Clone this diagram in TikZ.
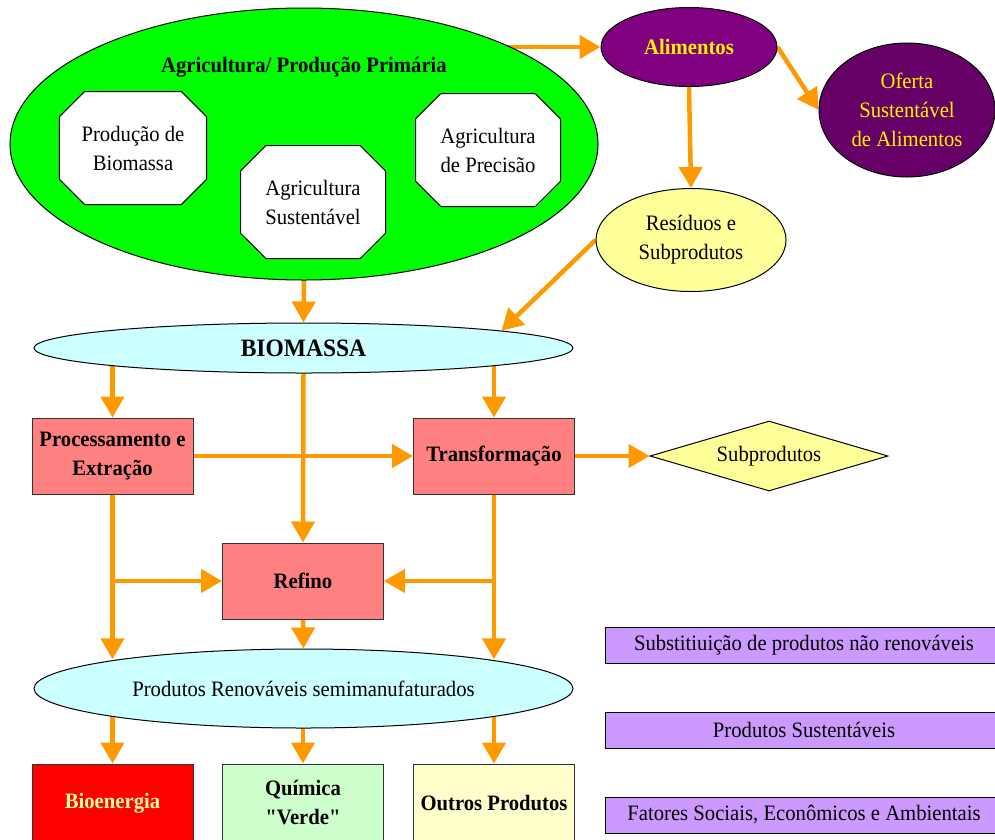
\documentclass[tikz,border=0pt]{standalone}
\usepackage{fontspec}
\setmainfont{Liberation Serif}[FakeStretch=0.94, Ligatures=TeXOff]
\usepackage{xcolor}
\usepackage{tikz}
\usetikzlibrary{shapes.geometric}
\usetikzlibrary{shapes.misc}
\usetikzlibrary{arrows.meta}
\pgfdeclarelayer{edgelayer}
\pgfsetlayers{edgelayer,main}

\definecolor{laranja}{HTML}{FF9900}
\definecolor{verde}{HTML}{00FF00}
\definecolor{roxo}{HTML}{800080}
\definecolor{roxoesc}{HTML}{660066}
\definecolor{amarelo}{HTML}{FFFF99}
\definecolor{ciano}{HTML}{CCFFFF}
\definecolor{salmao}{HTML}{FF8080}
\definecolor{verdeclaro}{HTML}{CCFFCC}
\definecolor{creme}{HTML}{FFFFCC}
\definecolor{lilas}{HTML}{CC99FF}

\begin{document}
\begin{tikzpicture}[x=1pt,y=-1pt,
            every node/.style={font=\fontsize{22}{29}\selectfont, align=center, inner sep=0pt},
            negrito/.style={font=\fontsize{22}{29}\selectfont\bfseries},
            seta/.style={draw=laranja, line width=4.5pt, -{Triangle[length=21pt,width=23pt]}},
            elipse/.style={ellipse, draw, line width=1pt},
            caixa/.style={rectangle, draw=black!80, line width=1pt, minimum width=161pt, minimum height=76pt},
            octo/.style={chamfered rectangle, chamfered rectangle xsep=27pt, draw, fill=white, line width=1pt, minimum width=145pt, minimum height=113pt},
            faixa/.style={rectangle, draw, fill=lilas, line width=1pt, minimum width=398pt, minimum height=36pt}]
            \useasboundingbox (0,0) rectangle (995,839);
            % Producao primaria
            \node[elipse, fill=verde, minimum width=588pt, minimum height=272pt] (agri) at (304,144) {};
            \node[negrito] (agrititulo) at (304,67) {Agricultura/ Produção Primária};
            \node[octo] (prodbio) at (133,148) {Produção de\\Biomassa};
            \node[octo] (agrisust) at (313,202) {Agricultura\\Sustentável};
            \node[octo] (agriprec) at (488,150) {Agricultura\\de Precisão};
            % Alimentos e residuos
            \node[elipse, fill=roxo, text=yellow, negrito, minimum width=176pt, minimum height=79pt] (alim) at (689,47) {Alimentos};
            \node[elipse, fill=roxoesc, text=yellow, minimum width=176pt, minimum height=134pt] (oferta) at (907,110) {Oferta\\Sustentável\\de Alimentos};
            \node[elipse, fill=amarelo, minimum width=190pt, minimum height=103pt] (resid) at (691,240) {Resíduos e\\Subprodutos};
            % Biomassa e processos
            \node[elipse, fill=ciano, font=\fontsize{25}{30}\selectfont\bfseries, minimum width=539pt, minimum height=50pt] (bio) at (303.5,348) {BIOMASSA};
            \node[caixa, fill=salmao, negrito] (proc) at (112.5,456) {Processamento e\\Extração};
            \node[caixa, fill=salmao, negrito] (transf) at (494,456) {Transformação};
            \node[diamond, aspect=3.4, draw, fill=amarelo, line width=1pt, minimum width=238pt, minimum height=70pt] (subp) at (769,456) {Subprodutos};
            \node[caixa, fill=salmao, negrito] (refino) at (303,581) {Refino};
            \node[elipse, fill=ciano, minimum width=539pt, minimum height=79pt] (prodren) at (303.5,688.5) {Produtos Renováveis semimanufaturados};
            % Produtos finais
            \node[caixa, fill=red, text=amarelo, negrito, minimum height=78pt] (bioen) at (112.5,803) {Bioenergia};
            \node[caixa, fill=verdeclaro, negrito, minimum height=78pt] (quim) at (303,803) {Química\\"Verde"};
            \node[caixa, fill=creme, negrito, minimum height=78pt] (outros) at (494,803) {Outros Produtos};
            % Legenda
            \node[faixa] (subst) at (804,645) {Substitiuição de produtos não renováveis};
            \node[faixa] (prodsust) at (804,730) {Produtos Sustentáveis};
            \node[faixa] (fatores) at (804,815) {Fatores Sociais, Econômicos e Ambientais};
            \begin{pgfonlayer}{edgelayer}
            \draw[seta] (alim.west -| agri.center) -- (alim.west);
            \draw[seta] (alim.east) -- (oferta.west);
            \draw[seta] (alim.south) -- (resid.north);
            \draw[seta] (resid.west) -- (bio.5);
            \draw[seta] (agri.south) -- (bio.north);
            \draw[seta] (proc.north |- bio.center) -- (proc.north);
            \draw[seta] (transf.north |- bio.center) -- (transf.north);
            \draw[seta] (bio.south) -- (refino.north);
            \draw[seta] (proc.east) -- (transf.west);
            \draw[seta] (transf.east) -- (subp.west);
            \draw[seta] (proc.south) -- (proc.south |- prodren.171);
            \draw[seta] (transf.south) -- (transf.south |- prodren.9);
            \draw[seta] (proc.south |- refino.west) -- (refino.west);
            \draw[seta] (transf.south |- refino.east) -- (refino.east);
            \draw[seta] (refino.south) -- (prodren.north);
            \foreach \n in {bioen,quim,outros}
                \draw[seta] (\n.north |- prodren.center) -- (\n.north);
            \end{pgfonlayer}
\end{tikzpicture}
\end{document}
